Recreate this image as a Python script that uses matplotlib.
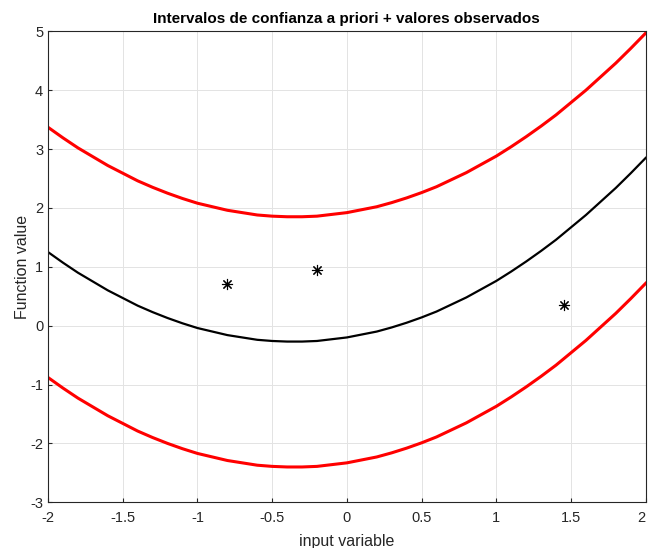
import matplotlib
matplotlib.use("Agg")
import matplotlib.pyplot as plt

plt.rcParams['font.family'] = ['Liberation Sans', 'DejaVu Sans']
plt.rcParams['axes.unicode_minus'] = False

x = [-2.0, -1.9, -1.8, -1.7, -1.6, -1.5, -1.4, -1.3, -1.2, -1.1,
     -1.0, -0.9, -0.8, -0.7, -0.6, -0.5, -0.4, -0.3, -0.2, -0.1,
     0.0, 0.1, 0.2, 0.3, 0.4, 0.5, 0.6, 0.7, 0.8, 0.9,
     1.0, 1.1, 1.2, 1.3, 1.4, 1.5, 1.6, 1.7, 1.8, 1.9, 2.0]
mean = [1.25, 1.07, 0.90, 0.75, 0.60, 0.47, 0.34, 0.23, 0.13, 0.04,
        -0.04, -0.10, -0.16, -0.20, -0.24, -0.26, -0.27, -0.27, -0.26, -0.23,
        -0.20, -0.15, -0.10, -0.03, 0.05, 0.14, 0.24, 0.36, 0.48, 0.62,
        0.76, 0.92, 1.09, 1.27, 1.46, 1.67, 1.88, 2.11, 2.34, 2.59, 2.85]
upper = [3.37, 3.19, 3.02, 2.87, 2.72, 2.59, 2.46, 2.35, 2.25, 2.16,
         2.08, 2.02, 1.96, 1.92, 1.88, 1.86, 1.85, 1.85, 1.86, 1.89,
         1.92, 1.97, 2.02, 2.09, 2.17, 2.26, 2.36, 2.48, 2.60, 2.74,
         2.88, 3.04, 3.21, 3.39, 3.58, 3.79, 4.00, 4.23, 4.46, 4.71, 4.97]
lower = [-0.88, -1.06, -1.23, -1.38, -1.53, -1.66, -1.79, -1.90, -2.00, -2.09,
         -2.17, -2.23, -2.29, -2.33, -2.37, -2.39, -2.40, -2.40, -2.39, -2.36,
         -2.33, -2.28, -2.23, -2.16, -2.08, -1.99, -1.89, -1.77, -1.65, -1.51,
         -1.37, -1.21, -1.04, -0.86, -0.67, -0.46, -0.25, -0.02, 0.21, 0.46, 0.72]
obs_x = [-0.8, -0.2, 1.45]
obs_y = [0.70, 0.95, 0.35]

xticks = [-2, -1.5, -1, -0.5, 0, 0.5, 1, 1.5, 2]
xticklabels = ['-2', '-1.5', '-1', '-0.5', '0', '0.5', '1', '1.5', '2']
yticks = [-3, -2, -1, 0, 1, 2, 3, 4, 5]

fig = plt.figure(figsize=(6.48, 5.48), dpi=100)
ax = fig.add_axes([0.0741, 0.0834, 0.9224, 0.8595])

ax.plot(x, upper, color='#ff0000', lw=2.2, solid_joinstyle='round')
ax.plot(x, mean, color='black', lw=1.6, solid_joinstyle='round')
ax.plot(x, lower, color='#ff0000', lw=2.2, solid_joinstyle='round')
ax.plot(obs_x, obs_y, linestyle='none', marker=(8, 2, 0), markersize=8,
        markeredgecolor='black', markeredgewidth=0.8, color='black')

ax.set_xlim(-2, 2)
ax.set_ylim(-3, 5)
ax.set_xticks(xticks)
ax.set_xticklabels(xticklabels)
ax.set_yticks(yticks)
ax.get_xticklabels()[-1].set_horizontalalignment('right')
ax.grid(True, color='#e3e3e3', lw=0.7)
ax.set_axisbelow(True)
for s in ax.spines.values():
    s.set_color('#262626')
    s.set_linewidth(0.8)
ax.tick_params(direction='in', length=3, colors='#262626', labelsize=10.5,
               top=False, right=False)
ax.tick_params(axis='x', pad=6)
ax.set_xlabel('input variable', fontsize=11.5, color='#262626', labelpad=7)
ax.set_ylabel('Function value', fontsize=11.5, color='#262626', labelpad=0)
ax.set_title('Intervalos de confianza a priori + valores observados',
             fontsize=11, fontweight='bold', pad=6)

fig.savefig('out.png', dpi=100)
